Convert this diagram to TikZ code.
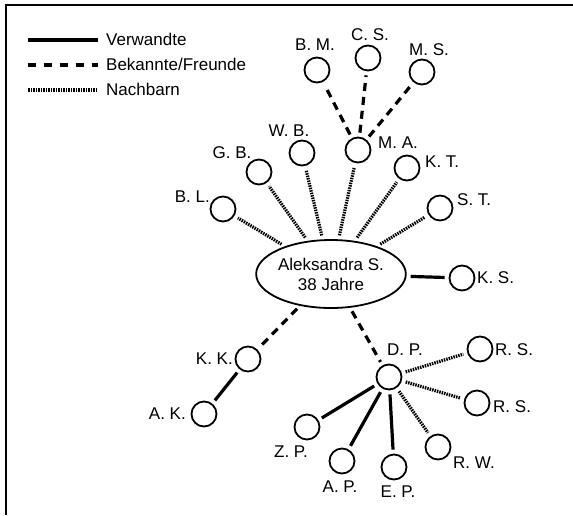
\documentclass[tikz,border=0pt]{standalone}
\usepackage{fontspec}
\setmainfont{Liberation Sans}
\usetikzlibrary{shapes.geometric}
\begin{document}
\begin{tikzpicture}[x=1pt,y=-1pt,
  font=\fontsize{17}{20}\selectfont,
  pers/.style={shape=circle,draw=black,fill=white,line width=1.8pt,minimum size=25pt,inner sep=0pt},
  ego/.style={shape=ellipse,draw=black,fill=white,line width=1.8pt,minimum width=116pt,minimum height=68pt,inner sep=0pt,align=center},
  lbl/.style={inner sep=0pt},
  verwandt/.style={line width=3.2pt},
  bekannt/.style={line width=3.2pt,dash pattern=on 8pt off 6pt},
  nachbar/.style={line width=3.2pt,dash pattern=on 1.5pt off 1pt},
  kante/.style={shorten >=4pt,shorten <=4pt}]
 \useasboundingbox (0,0) rectangle (573,515);
 \draw[line width=2pt] (5.7,515) -- (5.7,5) -- (573,5);
 \coordinate (leg 1a) at (28,40);
 \coordinate (leg 1b) at (98,40);
 \coordinate (leg 2a) at (28,65);
 \coordinate (leg 2b) at (98,65);
 \coordinate (leg 3a) at (28,90);
 \coordinate (leg 3b) at (98,90);
 \draw[verwandt] (leg 1a) -- (leg 1b);
 \draw[bekannt,dash pattern=on 8.3pt off 7.6pt] (leg 2a) -- (leg 2b);
 \draw[nachbar] (leg 3a) -- (leg 3b);
 \node (leg 1) at (106,45) [lbl,anchor=base west] {Verwandte};
 \node (leg 2) at (106,70) [lbl,anchor=base west] {Bekannte/Freunde};
 \node (leg 3) at (106,95) [lbl,anchor=base west] {Nachbarn};
 \node (vrtx AS) at (331,274) [ego] {Aleksandra S.\\38 Jahre};
 \node (vrtx BM) at (317,70) [pers] {};
 \node (vrtx CS) at (368,58) [pers] {};
 \node (vrtx MS) at (422,72) [pers] {};
 \node (vrtx MA) at (358,150) [pers] {};
 \node (vrtx WB) at (302,153) [pers] {};
 \node (vrtx KT) at (407,168) [pers] {};
 \node (vrtx GB) at (259,172) [pers] {};
 \node (vrtx BL) at (223,209) [pers] {};
 \node (vrtx ST) at (440,208) [pers] {};
 \node (vrtx KS) at (462,278) [pers] {};
 \node (vrtx KK) at (248,359) [pers] {};
 \node (vrtx AK) at (204,414) [pers] {};
 \node (vrtx DP) at (389,377) [pers] {};
 \node (vrtx ZP) at (307,427) [pers] {};
 \node (vrtx AP) at (342,461) [pers] {};
 \node (vrtx EP) at (394,467) [pers] {};
 \node (vrtx RW) at (438,447) [pers] {};
 \node (vrtx RS1) at (480,349) [pers] {};
 \node (vrtx RS2) at (477,403) [pers] {};
 \node (lbl BM) at (315,45) [lbl] {B. M.};
 \node (lbl CS) at (370,35) [lbl] {C. S.};
 \node (lbl MS) at (429,50) [lbl] {M. S.};
 \node (lbl MA) at (378,143) [lbl,anchor=west] {M. A.};
 \node (lbl WB) at (289,131) [lbl] {W. B.};
 \node (lbl KT) at (425,162) [lbl,anchor=west] {K. T.};
 \node (lbl GB) at (232,153) [lbl] {G. B.};
 \node (lbl BL) at (210,197) [lbl,anchor=east] {B. L.};
 \node (lbl ST) at (457,200) [lbl,anchor=west] {S. T.};
 \node (lbl KS) at (477,278) [lbl,anchor=west] {K. S.};
 \node (lbl KK) at (233,359) [lbl,anchor=east] {K. K.};
 \node (lbl AK) at (186,414) [lbl,anchor=east] {A. K.};
 \node (lbl DP) at (405,350) [lbl] {D. P.};
 \node (lbl ZP) at (291,452) [lbl] {Z. P.};
 \node (lbl AP) at (340,487) [lbl] {A. P.};
 \node (lbl EP) at (398,492) [lbl] {E. P.};
 \node (lbl RW) at (453,463) [lbl,anchor=west] {R. W.};
 \node (lbl RS1) at (495,350) [lbl,anchor=west] {R. S.};
 \node (lbl RS2) at (493,407) [lbl,anchor=west] {R. S.};
 \draw[kante,nachbar] (vrtx AS) -- (vrtx BL);
 \draw[kante,nachbar] (vrtx AS) -- (vrtx GB);
 \draw[kante,nachbar] (vrtx AS) -- (vrtx WB);
 \draw[kante,nachbar] (vrtx AS) -- (vrtx MA);
 \draw[kante,nachbar] (vrtx AS) -- (vrtx KT);
 \draw[kante,nachbar] (vrtx AS) -- (vrtx ST);
 \draw[kante,verwandt] (vrtx AS) -- (vrtx KS);
 \draw[kante,bekannt] (vrtx AS) -- (vrtx KK);
 \draw[kante,bekannt] (vrtx AS) -- (vrtx DP);
 \draw[kante,bekannt] (vrtx MA) -- (vrtx BM);
 \draw[kante,bekannt] (vrtx MA) -- (vrtx CS);
 \draw[kante,bekannt] (vrtx MA) -- (vrtx MS);
 \draw[kante,verwandt] (vrtx KK) -- (vrtx AK);
 \draw[kante,verwandt] (vrtx DP) -- (vrtx ZP);
 \draw[kante,verwandt] (vrtx DP) -- (vrtx AP);
 \draw[kante,verwandt] (vrtx DP) -- (vrtx EP);
 \draw[kante,nachbar] (vrtx DP) -- (vrtx RW);
 \draw[kante,nachbar] (vrtx DP) -- (vrtx RS1);
 \draw[kante,nachbar] (vrtx DP) -- (vrtx RS2);
\end{tikzpicture}
\end{document}
